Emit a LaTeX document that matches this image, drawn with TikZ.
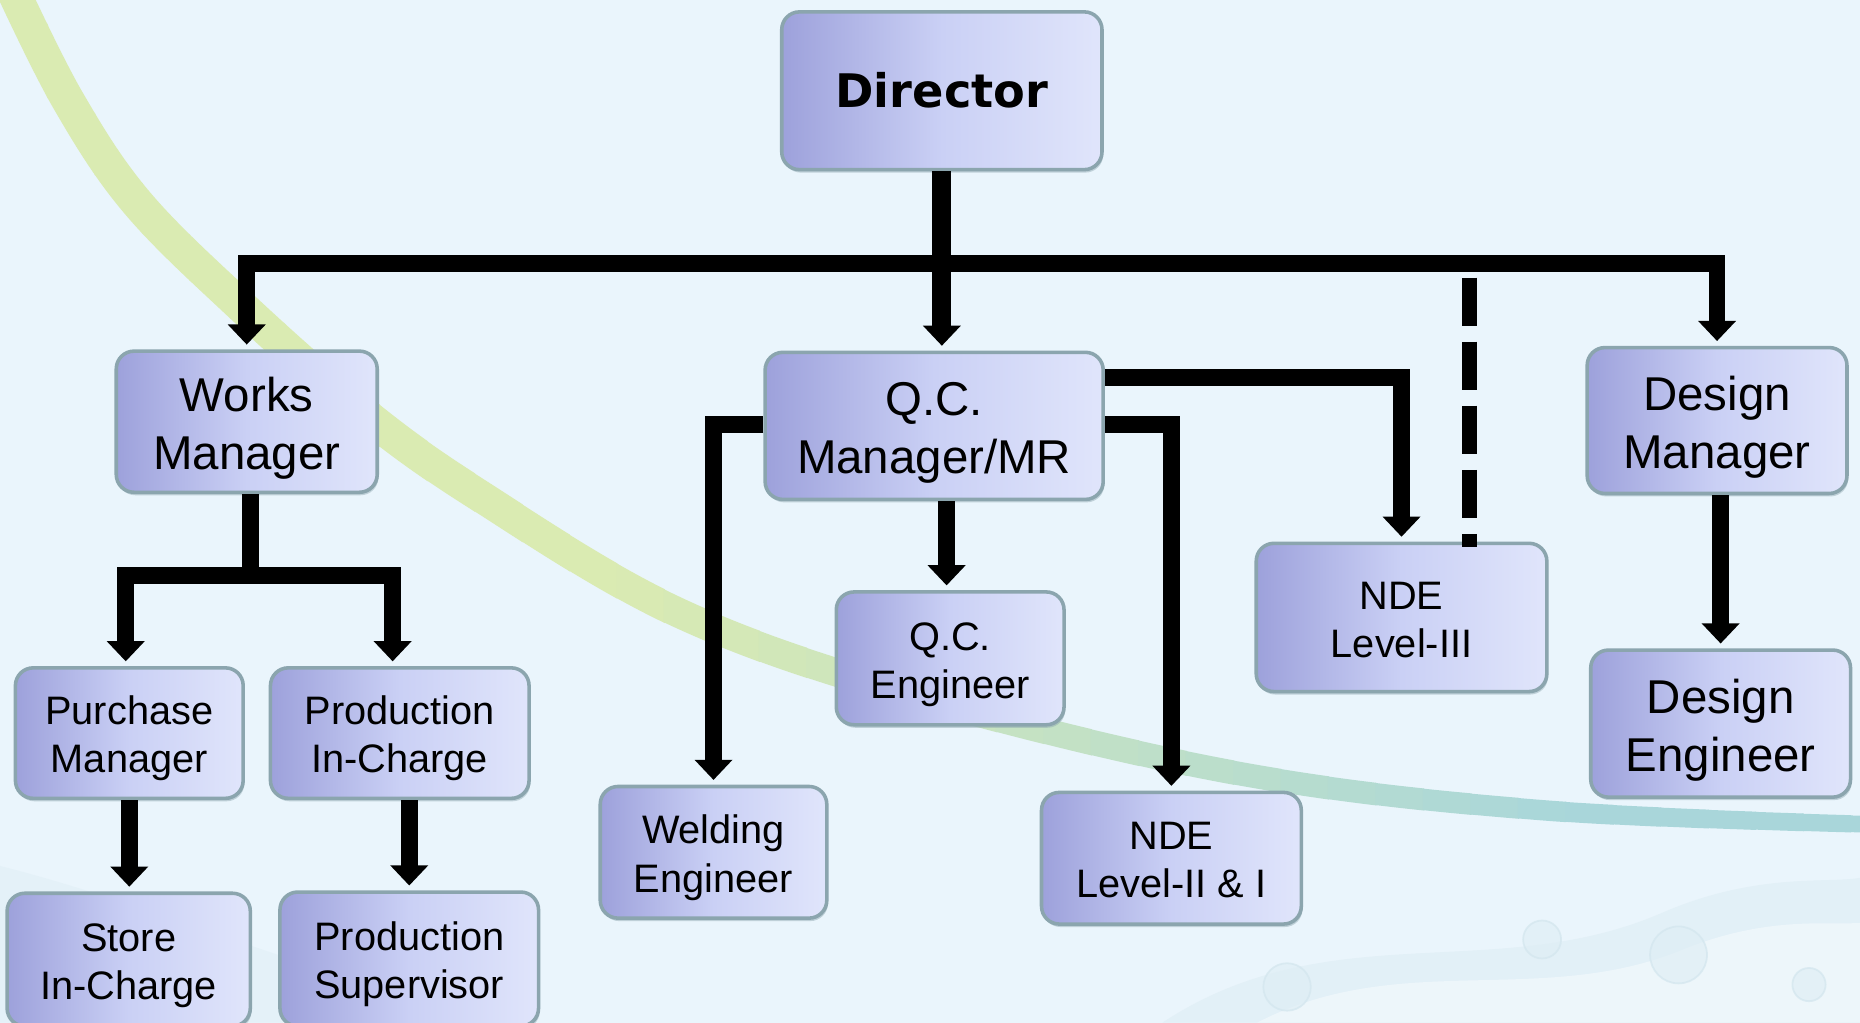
\documentclass[tikz,border=0pt]{standalone}
\usepackage{fontspec}
\setmainfont{Liberation Sans}
\newfontfamily\dirfont{DejaVu Sans}
\usetikzlibrary{arrows.meta,shadows,calc}
\definecolor{bg}{HTML}{EAF5FC}
\definecolor{boxL}{HTML}{9DA1DB}
\definecolor{boxM}{HTML}{CAD0F5}
\definecolor{boxR}{HTML}{E0E5FB}
\definecolor{boxline}{HTML}{8BA5AE}
\definecolor{cgreen}{HTML}{DAEBB2}
\definecolor{cteal}{HTML}{A9D6DA}
\definecolor{wave}{HTML}{DFEEF5}
\definecolor{bubble}{HTML}{D3E6EE}
\newcommand\twol[2]{\rule{0pt}{1em}#1\\#2\rule[-0.21em]{0pt}{0pt}}
\begin{document}
\begin{tikzpicture}[x=1pt,y=-1pt,
  box/.style={rectangle, rounded corners=15pt, draw=boxline, line width=3pt,
    left color=boxL, right color=boxR, middle color=boxM, align=center, inner sep=0pt,
    drop shadow={shadow xshift=1pt, shadow yshift=-2.5pt, fill=boxline, opacity=0.45}},
  big/.style={font=\fontsize{40}{49}\selectfont},
  small/.style={font=\fontsize{33.5}{40.5}\selectfont},
  plainline/.style={line width=14pt, line join=miter},
  conn/.style={line width=14pt, line join=miter, -{Triangle[width=31pt,length=17pt]}, shorten >=4pt},
  dashline/.style={line width=12.6pt, dash pattern=on 40.5pt off 13.5pt}
]
\useasboundingbox (0,0) rectangle (1568,862);
\fill[bg] (0,0) rectangle (1568,862);
\clip (0,0) rectangle (1568,862);

% faint water background at the bottom
\fill[wave, opacity=0.7] (980,862) .. controls (1120,770) and (1260,830) .. (1400,770)
  .. controls (1480,735) and (1540,745) .. (1568,740) -- (1568,862) -- cycle;
\fill[bg!50!white, opacity=0.6] (1060,862) .. controls (1180,800) and (1300,850) .. (1420,800)
  .. controls (1490,772) and (1540,780) .. (1568,778) -- (1568,862) -- cycle;
\fill[wave, opacity=0.5] (0,730) .. controls (120,760) and (260,820) .. (420,862) -- (0,862) -- cycle;
\foreach \bx/\by/\br in {1085/832/20, 1300/792/16, 1415/805/24, 1525/830/14}{
  \draw[bubble, line width=1.5pt, fill=wave, opacity=0.7] (\bx,\by) circle (\br);
}

% decorative swoosh
\foreach \i in {0,...,39}{
  \pgfmathsetmacro\xa{\i*40}
  \pgfmathsetmacro\pc{min(100,max(0,(\xa-500)/8))}
  \pgfmathsetmacro\lw{28-max(0,\xa-300)/1268*14}
  \begin{scope}
    \clip (\xa-0.5,-20) rectangle (\xa+40.5,900);
    \draw[line width=\lw pt, color=cteal!\pc!cgreen]
      plot[smooth, tension=0.6] coordinates {(10,-10) (57,84) (114,169) (198,253) (300,343) (400,415) (573,517) (776,588) (1044,652) (1300,683) (1580,695)};
  \end{scope}
}

% boxes
\node[box, minimum width=270pt, minimum height=133pt, font=\dirfont\bfseries\fontsize{39}{47}\selectfont] (dir) at (794,76.5) {Director};
\node[box, big, minimum width=220pt, minimum height=119pt] (wm) at (208,355.5) {\twol{Works}{Manager}};
\node[box, big, minimum width=285pt, minimum height=124pt] (qcm) at (787.5,359) {\twol{Q.C.}{Manager/MR}};
\node[box, big, minimum width=219pt, minimum height=123pt] (dm) at (1447.5,354.5) {\twol{Design}{Manager}};
\node[box, small, minimum width=192pt, minimum height=110pt] (pm) at (109,618) {\twol{Purchase}{Manager}};
\node[box, small, minimum width=218pt, minimum height=110pt] (pic) at (337,618) {\twol{Production}{In-Charge}};
\node[box, small, minimum width=205pt, minimum height=112pt] (sic) at (108.5,809) {\twol{Store}{In-Charge}};
\node[box, small, minimum width=218pt, minimum height=113pt] (ps) at (345,808.5) {\twol{Production}{Supervisor}};
\node[box, small, minimum width=191pt, minimum height=111pt] (we) at (601.5,718.5) {\twol{Welding}{Engineer}};
\node[box, small, minimum width=192pt, minimum height=112pt] (qce) at (801,555) {\twol{Q.C.}{Engineer}};
\node[box, small, minimum width=219pt, minimum height=111pt] (nde2) at (987.5,723.5) {\twol{NDE}{Level-II \& I}};
\node[box, small, minimum width=245pt, minimum height=125pt] (nde3) at (1181.5,520.5) {\twol{NDE}{Level-III}};
\node[box, big, minimum width=219pt, minimum height=124pt] (de) at (1450.5,610) {\twol{Design}{Engineer}};

% connectors
\coordinate (bar) at (794,222);
\coordinate (dashtop) at (1239,234);
\coordinate (wmj) at (211,485);

\draw[plainline] (dir.south) -- (bar);
\draw[conn] (bar) -| (wm.north);
\draw[conn] (bar) -| (dm.north);
\draw[conn, line width=16pt] (dir.south) -- (dir.south |- qcm.north);
\draw[dashline] (dashtop) -- (dashtop |- nde3.north) -- ++(0,5);

\draw[conn] ([yshift=41pt]qcm.east) -| (nde3.north);
\draw[conn] ([yshift=1pt]qcm.east) -| (nde2.north);
\draw[conn] ([yshift=1pt]qcm.west) -| (we.north);
\draw[conn] ([xshift=-3pt]qce.north |- qcm.south) -- ([xshift=-3pt]qce.north);

\draw[plainline] (wm.south -| wmj) -- (wmj);
\draw[conn] (wmj) -| ([xshift=-3pt]pm.north);
\draw[conn] (wmj) -| ([xshift=-6pt]pic.north);
\draw[conn] (pm.south) -- (pm.south |- sic.north);
\draw[conn] (ps.north |- pic.south) -- (ps.north);
\draw[conn] (de.north |- dm.south) -- (de.north);
\end{tikzpicture}
\end{document}
